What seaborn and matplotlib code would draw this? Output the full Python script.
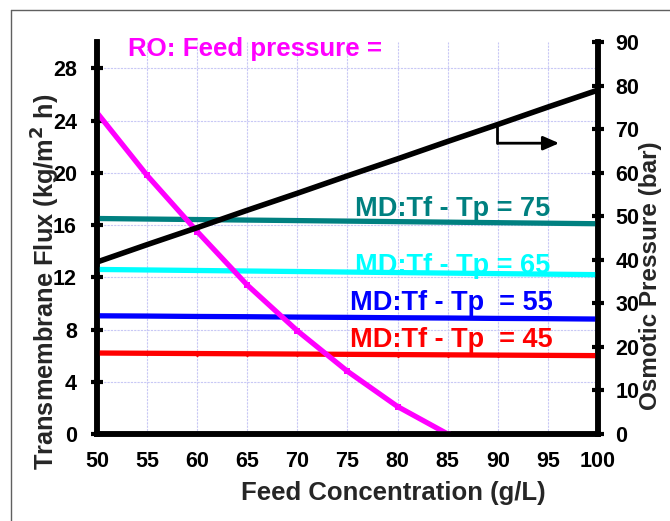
import matplotlib
matplotlib.use("Agg")
import matplotlib.pyplot as plt
from matplotlib.lines import Line2D
import seaborn as sns
import pandas as pd

sns.set_theme(style="white")
plt.rcParams["font.family"] = ["Liberation Sans", "DejaVu Sans"]
plt.rcParams["font.weight"] = "bold"

# Feed concentration (g/L)
conc = [50, 55, 60, 65, 70, 75, 80, 85, 90, 95, 100]

# RO permeate flux (kg/m2 h), falls to zero at 85 g/L
ro_conc = [50, 55, 60, 65, 70, 75, 80, 85]
ro_flux = [24.6, 19.8, 15.5, 11.4, 7.9, 4.8, 2.1, 0.0]

# MD flux for different temperature differences Tf - Tp
md75 = [16.5, 16.46, 16.42, 16.38, 16.34, 16.3, 16.26, 16.22, 16.18, 16.14, 16.1]
md65 = [12.6, 12.56, 12.52, 12.48, 12.44, 12.4, 12.36, 12.32, 12.28, 12.24, 12.2]
md55 = [9.05, 9.03, 9.0, 8.98, 8.95, 8.93, 8.9, 8.88, 8.85, 8.83, 8.8]
md45 = [6.2, 6.18, 6.16, 6.14, 6.12, 6.1, 6.08, 6.06, 6.04, 6.02, 6.0]

# Osmotic pressure of the feed (bar)
osmotic = [39.5, 43.5, 47.4, 51.4, 55.3, 59.3, 63.2, 67.2, 71.1, 75.1, 79.0]

md_labels = ["MD:Tf - Tp = 75", "MD:Tf - Tp = 65", "MD:Tf - Tp  = 55", "MD:Tf - Tp  = 45"]
md_colors = ["#008080", "#00FFFF", "#0000FF", "#FF0000"]

fig = plt.figure(figsize=(6.7, 5.21), dpi=100)
ax = fig.add_axes([0.1448, 0.167, 0.7477, 0.752])
ax2 = ax.twinx()

df_md = pd.DataFrame({"conc": conc, "75": md75, "65": md65, "55": md55, "45": md45})
for key, col in zip(["75", "65", "55", "45"], md_colors):
    sns.lineplot(data=df_md, x="conc", y=key, ax=ax, color=col, lw=3.8,
                 marker="D" if key == "45" else None, markersize=3,
                 markeredgewidth=0, zorder=3)

df_ro = pd.DataFrame({"conc": ro_conc, "flux": ro_flux})
sns.lineplot(data=df_ro, x="conc", y="flux", ax=ax, color="#FF00FF", lw=3.8,
             marker="s", markersize=5, markeredgewidth=0, zorder=4)

df_os = pd.DataFrame({"conc": conc, "p": osmotic})
sns.lineplot(data=df_os, x="conc", y="p", ax=ax2, color="black", lw=4, zorder=5)

ax.set_xlim(50, 100)
ax.set_ylim(0, 30)
ax2.set_ylim(0, 90)
ax.set_xticks(range(50, 101, 5))
ax.set_yticks(range(0, 29, 4))
ax2.set_yticks(range(0, 91, 10))

ax.grid(True, color="#C8C8F5", linestyle=(0, (2, 1)), lw=0.8)
ax.set_axisbelow(True)

for a in (ax, ax2):
    for s in a.spines.values():
        s.set_linewidth(4)
        s.set_color("black")
    a.spines["top"].set_visible(False)

ax.tick_params(axis="x", direction="inout", length=9, width=3, labelsize=15.5,
               colors="black", pad=8)
ax.tick_params(axis="y", direction="inout", length=9, width=3, labelsize=15.5,
               colors="black", pad=10)
ax2.tick_params(axis="y", direction="inout", length=9, width=3, labelsize=15.5,
                colors="black", pad=8)
for lab in ax.get_xticklabels() + ax.get_yticklabels() + ax2.get_yticklabels():
    lab.set_fontweight("bold")

ax.set_xlabel("Feed Concentration (g/L)", fontsize=18.5, fontweight="bold")
ax.set_ylabel("Transmembrane Flux (kg/m$^\\mathbf{2}$ h)", fontsize=18.3, fontweight="bold")
ax2.set_ylabel("Osmotic Pressure (bar)", fontsize=17.5, fontweight="bold")
ax.xaxis.set_label_coords(0.591, -0.1505)
ax.yaxis.set_label_coords(-0.102, 0.388)
ax2.yaxis.set_label_coords(1.104, 0.403)
for lab in (ax.xaxis.label, ax.yaxis.label, ax2.yaxis.label):
    lab.set_verticalalignment("center")

# Series annotations
ax.text(53.1, 29.5, "RO: Feed pressure =", color="#FF00FF", fontsize=18.6,
        fontweight="bold", va="center", ha="left")
label_pos = [(75.75, 17.2), (75.75, 12.85), (75.25, 10.0), (75.25, 7.2)]
for txt, col, (x, y) in zip(md_labels, md_colors, label_pos):
    ax.text(x, y, txt, color=col, fontsize=19.5, fontweight="bold",
            va="center", ha="left", zorder=2)

# Arrow pointing to the right-hand axis
ax2.plot([89.9, 89.9], [71.3, 66.8], color="black", lw=2, zorder=6)
ax2.annotate("", xy=(96.4, 66.8), xytext=(89.8, 66.8),
             arrowprops=dict(arrowstyle="-|>,head_length=0.8,head_width=0.35",
                             color="black", lw=2), zorder=6)

# Thin frame at the top and left of the figure
fig.add_artist(Line2D([11 / 670, 11 / 670], [0, 1 - 10 / 521], color="#606060", lw=1,
                      transform=fig.transFigure))
fig.add_artist(Line2D([11 / 670, 1], [1 - 10 / 521, 1 - 10 / 521], color="#606060", lw=1,
                      transform=fig.transFigure))

fig.savefig("out.png", dpi=100)
